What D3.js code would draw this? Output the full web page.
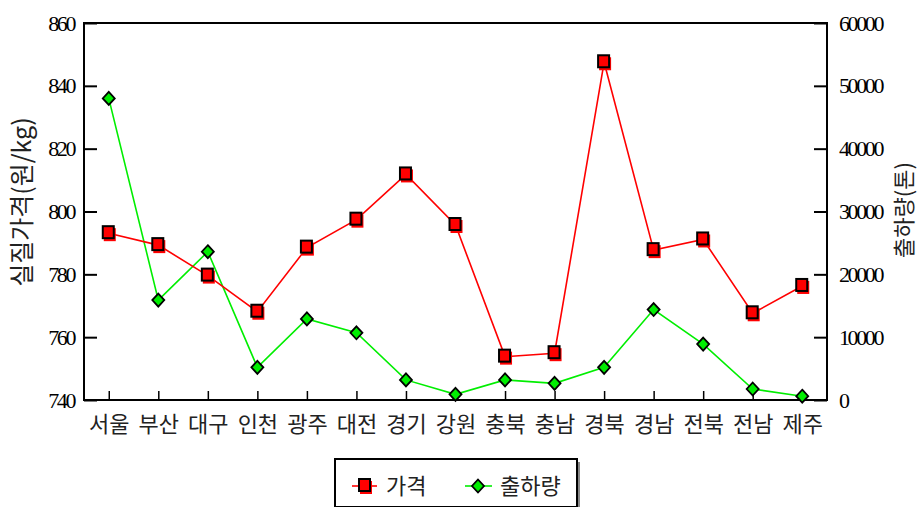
<!DOCTYPE html>
<html>
<head>
<meta charset="utf-8">
<script src="https://cdn.jsdelivr.net/npm/d3@7"></script>
<style>
  body { margin: 0; background: #fff; }
  svg { display: block; }
</style>
</head>
<body>
<script>
var categories = ["서울", "부산", "대구", "인천", "광주", "대전", "경기", "강원", "충북", "충남", "경북", "경남", "전북", "전남", "제주"];
var price = [793.1, 789.3, 779.6, 768.1, 788.5, 797.4, 811.8, 795.7, 753.8, 754.9, 847.5, 787.7, 791.1, 767.6, 776.3];
var shipment = [48000, 15900, 23600, 5200, 12900, 10700, 3200, 900, 3200, 2650, 5200, 14400, 8900, 1750, 600];
var priceTicks = [740, 760, 780, 800, 820, 840, 860];
var shipTicks = [0, 10000, 20000, 30000, 40000, 50000, 60000];

var width = 924, height = 507;
var plotLeft = 84, plotRight = 827, plotTop = 23, plotBottom = 400;

var svg = d3.select("body")
    .append("svg")
    .attr("width", width)
    .attr("height", height);

var x = d3.scalePoint()
    .domain(categories)
    .range([plotLeft, plotRight])
    .padding(0.5);

var yPrice = d3.scaleLinear()
    .domain([740, 860])
    .range([plotBottom, plotTop]);

var yShip = d3.scaleLinear()
    .domain([0, 60000])
    .range([plotBottom, plotTop]);

var numFont = "'Liberation Serif', 'Times New Roman', serif";
var krFont = "'Noto Sans CJK KR', sans-serif";

// left axis
var gl = svg.append("g")
    .attr("transform", "translate(" + plotLeft + ",0)")
    .call(d3.axisLeft(yPrice).tickValues(priceTicks).tickSize(-13).tickSizeOuter(0).tickPadding(10));

// right axis
var gr = svg.append("g")
    .attr("transform", "translate(" + plotRight + ",0)")
    .call(d3.axisRight(yShip).tickValues(shipTicks).tickSize(-13).tickSizeOuter(0).tickPadding(12).tickFormat(d3.format("d")));

[gl, gr].forEach(function(g) {
    g.select(".domain").remove();
    g.selectAll("line").attr("stroke", "#000").attr("stroke-width", 2);
    g.selectAll("text")
        .attr("font-family", numFont)
        .attr("font-size", 22)
        .attr("letter-spacing", "-2.4px")
        .attr("fill", "#000");
});

// bottom axis
var gb = svg.append("g")
    .attr("transform", "translate(0," + plotBottom + ")")
    .call(d3.axisBottom(x).tickSize(-9).tickSizeOuter(0).tickPadding(16));
gb.select(".domain").remove();
gb.selectAll("line").attr("stroke", "#000").attr("stroke-width", 1.5);
gb.selectAll("text")
    .attr("font-family", krFont)
    .attr("font-size", 22)
    .attr("fill", "#222");

// frame
svg.append("rect")
    .attr("x", plotLeft)
    .attr("y", plotTop)
    .attr("width", plotRight - plotLeft)
    .attr("height", plotBottom - plotTop)
    .attr("fill", "none")
    .attr("stroke", "#000")
    .attr("stroke-width", 2);

// axis titles
svg.append("text")
    .attr("transform", "translate(31,202) rotate(-90)")
    .attr("text-anchor", "middle")
    .attr("font-family", krFont)
    .attr("font-size", 25)
    .attr("fill", "#222")
    .text("실질가격(원/kg)");

svg.append("text")
    .attr("transform", "translate(912,210) rotate(-90)")
    .attr("text-anchor", "middle")
    .attr("font-family", krFont)
    .attr("font-size", 22)
    .attr("fill", "#222")
    .text("출하량(톤)");

// lines
var priceLine = d3.line()
    .x(function(d, i) { return x(categories[i]); })
    .y(function(d) { return yPrice(d); });
var shipLine = d3.line()
    .x(function(d, i) { return x(categories[i]); })
    .y(function(d) { return yShip(d); });

svg.append("path")
    .attr("d", shipLine(shipment))
    .attr("fill", "none")
    .attr("stroke", "#00ee00")
    .attr("stroke-width", 1.6);

svg.append("path")
    .attr("d", priceLine(price))
    .attr("fill", "none")
    .attr("stroke", "#ff0000")
    .attr("stroke-width", 1.6);

function square(g, cx, cy) {
    g.append("rect")
        .attr("x", cx - 5).attr("y", cy - 5)
        .attr("width", 12).attr("height", 13)
        .attr("fill", "#ff0000");
    g.append("rect")
        .attr("x", cx - 6).attr("y", cy - 7)
        .attr("width", 11).attr("height", 12)
        .attr("fill", "#ff0000")
        .attr("stroke", "#000")
        .attr("stroke-width", 2);
}

function diamond(g, cx, cy) {
    g.append("path")
        .attr("d", "M" + cx + "," + (cy - 6.5) + "L" + (cx + 6) + "," + cy + "L" + cx + "," + (cy + 6.5) + "L" + (cx - 6) + "," + cy + "Z")
        .attr("fill", "#00ee00")
        .attr("stroke", "#000")
        .attr("stroke-width", 1.8);
}

var marks = svg.append("g");
shipment.forEach(function(d, i) { diamond(marks, x(categories[i]), yShip(d)); });
price.forEach(function(d, i) { square(marks, x(categories[i]), yPrice(d)); });

// legend
var lg = svg.append("g");
lg.append("rect")
    .attr("x", 338).attr("y", 462)
    .attr("width", 242).attr("height", 48)
    .attr("fill", "#888");
lg.append("rect")
    .attr("x", 335).attr("y", 459)
    .attr("width", 242).attr("height", 48)
    .attr("fill", "#fff")
    .attr("stroke", "#000")
    .attr("stroke-width", 2);

lg.append("line")
    .attr("x1", 352).attr("x2", 377).attr("y1", 486).attr("y2", 486)
    .attr("stroke", "#ff0000").attr("stroke-width", 1.6);
square(lg, 365, 486);
lg.append("text")
    .attr("x", 386).attr("y", 494)
    .attr("font-family", krFont)
    .attr("font-size", 22)
    .attr("fill", "#222")
    .text("가격");

lg.append("line")
    .attr("x1", 465).attr("x2", 492).attr("y1", 486).attr("y2", 486)
    .attr("stroke", "#00ee00").attr("stroke-width", 1.6);
diamond(lg, 478, 486);
lg.append("text")
    .attr("x", 500).attr("y", 494)
    .attr("font-family", krFont)
    .attr("font-size", 22)
    .attr("fill", "#222")
    .text("출하량");
</script>
</body>
</html>
